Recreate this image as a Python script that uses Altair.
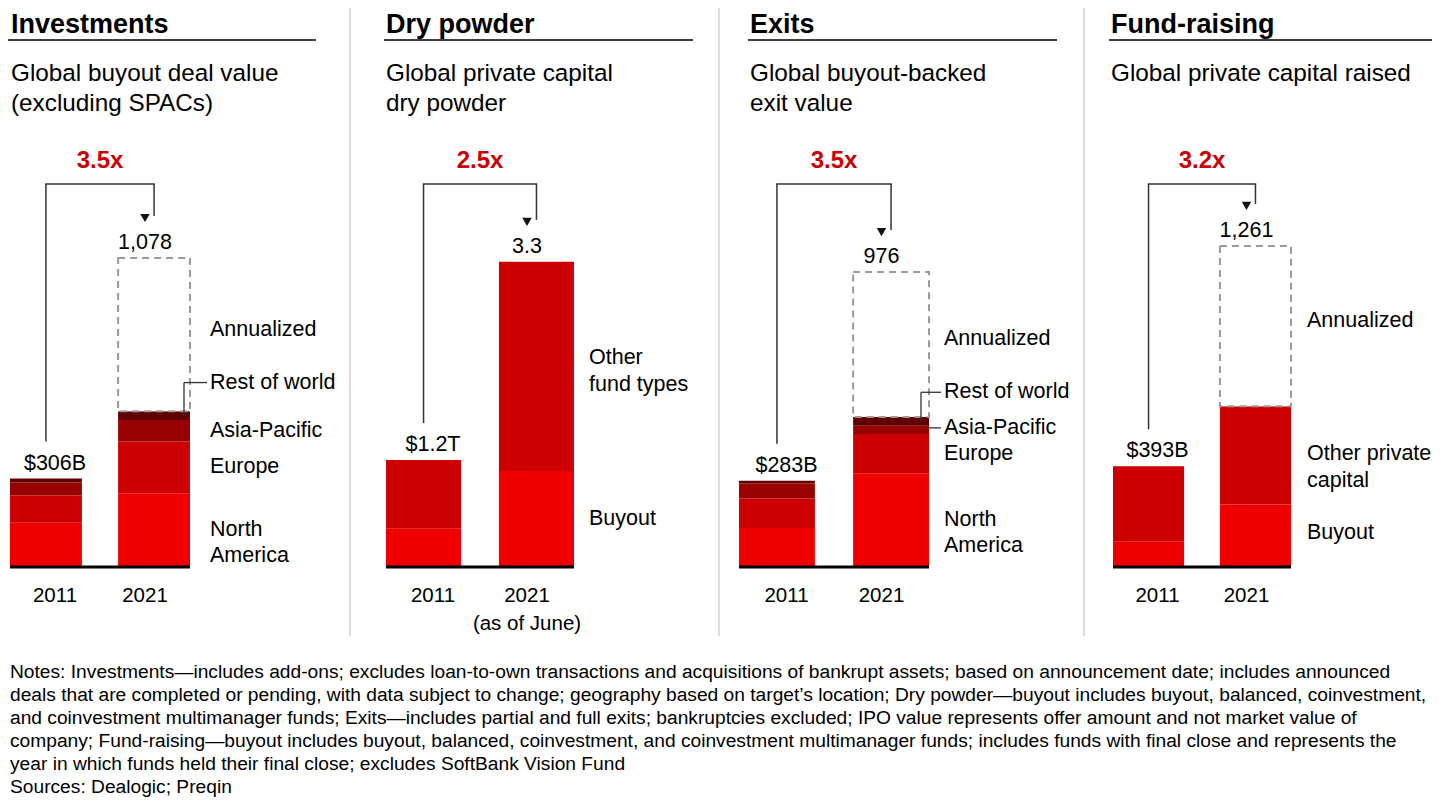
import altair as alt
import pandas as pd

FONT = "Liberation Sans"
YEARS = ["2011", "2021"]

# ---------------- data ----------------
inv_segments = ["North America", "Europe", "Asia-Pacific", "Rest of world", "Annualized"]
inv_labels = ["North\nAmerica", "Europe", "Asia-Pacific", "Rest of world", "Annualized"]
inv_2011 = [151, 96, 45, 14, 0]
inv_2021 = [255, 181, 75, 31, 536]
inv_totals = ["$306B", "1,078"]

dry_segments = ["Buyout", "Other fund types"]
dry_labels = ["Buyout", "Other\nfund types"]
dry_2011 = [0.41, 0.74]
dry_2021 = [1.03, 2.27]
dry_totals = ["$1.2T", "3.3"]

exit_segments = ["North America", "Europe", "Asia-Pacific", "Rest of world", "Annualized"]
exit_labels = ["North\nAmerica", "Europe", "Asia-Pacific", "Rest of world", "Annualized"]
exit_2011 = [126, 98, 50, 9, 0]
exit_2021 = [308, 130, 28, 29, 481]
exit_totals = ["$283B", "976"]

fund_segments = ["Buyout", "Other private capital", "Annualized"]
fund_labels = ["Buyout", "Other private\ncapital", "Annualized"]
fund_2011 = [96, 297, 0]
fund_2021 = [242, 387, 632]
fund_totals = ["$393B", "1,261"]

headers = ["Investments", "Dry powder", "Exits", "Fund-raising"]
subtitles = [
    ["Global buyout deal value", "(excluding SPACs)"],
    ["Global private capital", "dry powder"],
    ["Global buyout-backed", "exit value"],
    ["Global private capital raised"],
]
multiples = ["3.5x", "2.5x", "3.5x", "3.2x"]
year_texts = [
    ["2011", "2021"],
    ["2011", "2021\n(as of June)"],
    ["2011", "2021"],
    ["2011", "2021"],
]
notes_lines = [
    "Notes: Investments\u2014includes add-ons; excludes loan-to-own transactions and acquisitions of bankrupt assets; based on announcement date; includes announced",
    "deals that are completed or pending, with data subject to change; geography based on target\u2019s location; Dry powder\u2014buyout includes buyout, balanced, coinvestment,",
    "and coinvestment multimanager funds; Exits\u2014includes partial and full exits; bankruptcies excluded; IPO value represents offer amount and not market value of",
    "company; Fund-raising\u2014buyout includes buyout, balanced, coinvestment, and coinvestment multimanager funds; includes funds with final close and represents the",
    "year in which funds held their final close; excludes SoftBank Vision Fund",
    "Sources: Dealogic; Preqin",
]

SEG_COLORS = {
    "North America": "#EE0000",
    "Buyout": "#EE0000",
    "Europe": "#CC0000",
    "Other fund types": "#CC0000",
    "Other private capital": "#CC0000",
    "Asia-Pacific": "#990000",
    "Rest of world": "#600000",
}

# ---------------- layout (pixels) ----------------
W, HTOT = 1424, 792
BASE = 558          # baseline of bars
PAD = 0.335
HEADER_Y = 25
UL_Y = 32
SUB_Y = 73
MULT_Y = 160
BRACKET_Y = 176
YEAR_Y = 594
DIV_BOTTOM = 628
NOTES_Y = 670

layouts = [
    dict(ox=0, xrange=[2, 182], dmax=1953, hx=3, ul=[0, 308], lx=202, divider=342,
         offsets={"Annualized": -5, "Rest of world": -33},
         leaders={"Rest of world": ("elbow", 176)}),
    dict(ox=376, xrange=[2, 190], dmax=6.054, hx=2, ul=[0, 309], lx=205, divider=335,
         offsets={"Other fund types": -8}, leaders={}),
    dict(ox=731, xrange=[0, 190], dmax=1852.6, hx=11, ul=[9, 318], lx=205, divider=345,
         offsets={"Annualized": -5, "Rest of world": -29, "Asia-Pacific": -2},
         leaders={"Rest of world": ("elbow", 182), "Asia-Pacific": ("straight", None)}),
    dict(ox=1101, xrange=[4, 182], dmax=2198.5, hx=2, ul=[0, 323], lx=198, divider=None,
         offsets={"Annualized": -5, "Other private capital": -1, "Buyout": -2}, leaders={}),
]

TXT = dict(font=FONT, color="#000000")
LINE = "#333333"
COLOR = alt.Color("seg:N", scale=alt.Scale(domain=list(SEG_COLORS), range=list(SEG_COLORS.values())),
                  legend=None)


def panel_layers(segs, labels, v11, v21, totals, header, subtitle, mult, ylabels, L, notes=None):
    ox = L["ox"]
    r0, r1 = ox + L["xrange"][0], ox + L["xrange"][1]
    step = (r1 - r0) / (2 - PAD)
    bw = step * (1 - PAD)
    c1 = r0 + bw / 2
    c2 = r0 + step + bw / 2
    right_edge = r0 + step + bw
    upx = L["dmax"] / BASE

    rows = []
    for yr, vals in zip(YEARS, (v11, v21)):
        c = 0.0
        for s, lab, v in zip(segs, labels, vals):
            rows.append(dict(year=yr, seg=s, label=lab, y0=c, y1=c + v, mid=c + v / 2))
            c += v
    bars = pd.DataFrame(rows)
    solid = bars[(bars.seg != "Annualized") & (bars.y1 > bars.y0)]
    ann = bars[(bars.seg == "Annualized") & (bars.y1 > bars.y0)]
    tot = pd.DataFrame({"year": YEARS, "total": [sum(v11), sum(v21)],
                        "label": totals, "ylab": ylabels})
    lab = bars[(bars.year == "2021") & (bars.y1 > bars.y0)].copy()
    lab["ly"] = lab["mid"] - lab["seg"].map(lambda s: L["offsets"].get(s, 0)) * upx

    xs = alt.Scale(domain=YEARS, range=[r0, r1], paddingInner=PAD, paddingOuter=0)
    Xn = alt.X("year:N", scale=xs, axis=None)
    ys = alt.Scale(domain=[0, L["dmax"]], range=[BASE, 0], nice=False, zero=True)

    def Y(f):
        return alt.Y(f, scale=ys, axis=None)

    layers = []
    layers.append(alt.Chart(solid).mark_bar().encode(x=Xn, y=Y("y0:Q"), y2="y1:Q", color=COLOR))
    if len(ann):
        layers.append(alt.Chart(ann).mark_bar(fill="white", stroke="#9a9a9a", strokeDash=[7, 5],
                                              strokeWidth=2).encode(x=Xn, y=Y("y0:Q"), y2="y1:Q"))
    one = pd.DataFrame({"t": [mult]})
    # baseline under the bars
    layers.append(alt.Chart(one).mark_rule(color="#000000", strokeWidth=3).encode(
        x=alt.value(r0), x2=alt.value(r1), y=alt.value(BASE + 1)))
    # totals
    layers.append(alt.Chart(tot).mark_text(fontSize=21.5, baseline="alphabetic", dy=-9, **TXT).encode(
        x=Xn, y=Y("total:Q"), text="label:N"))
    # bracket + arrow
    layers.append(alt.Chart(tot[tot.year == "2011"]).mark_rule(color=LINE, strokeWidth=1.5, yOffset=-37).encode(
        x=Xn, y=Y("total:Q"), y2=alt.value(BRACKET_Y)))
    layers.append(alt.Chart(tot[tot.year == "2021"]).mark_rule(color=LINE, strokeWidth=1.5, yOffset=-42).encode(
        x=Xn, y=Y("total:Q"), y2=alt.value(BRACKET_Y)))
    layers.append(alt.Chart(tot[tot.year == "2021"]).mark_point(
        shape="triangle-down", filled=True, size=90, color="#111111", opacity=1, yOffset=-40).encode(
        x=Xn, y=Y("total:Q")))
    layers.append(alt.Chart(one).mark_rule(color=LINE, strokeWidth=1.5).encode(
        x=alt.value(c1 - 0.75), x2=alt.value(c2 + 0.75), y=alt.value(BRACKET_Y)))
    layers.append(alt.Chart(one).mark_text(fontSize=24, fontWeight="bold", font=FONT, color="#CC0000",
                                           baseline="alphabetic").encode(
        x=alt.value((c1 + c2) / 2), y=alt.value(MULT_Y), text="t:N"))
    # segment labels + leaders
    layers.append(alt.Chart(lab).mark_text(align="left", baseline="middle", lineBreak="\n", fontSize=21.5,
                                           lineHeight=26.5, **TXT).encode(
        x=alt.value(ox + L["lx"]), y=Y("ly:Q"), text="label:N"))
    for seg, (kind, vx) in L["leaders"].items():
        d = lab[lab.seg == seg]
        if kind == "elbow":
            layers.append(alt.Chart(d).mark_rule(color=LINE, strokeWidth=1.3).encode(
                x=alt.value(ox + vx), y=Y("mid:Q"), y2="ly:Q"))
            layers.append(alt.Chart(d).mark_rule(color=LINE, strokeWidth=1.3).encode(
                x=alt.value(ox + vx), x2=alt.value(ox + L["lx"] - 3), y=Y("ly:Q")))
        else:
            layers.append(alt.Chart(d).mark_rule(color=LINE, strokeWidth=1.3).encode(
                x=alt.value(right_edge), x2=alt.value(ox + L["lx"] - 3), y=Y("ly:Q")))
    # year labels
    layers.append(alt.Chart(tot).mark_text(fontSize=20.5, baseline="alphabetic", lineBreak="\n",
                                           lineHeight=28, **TXT).encode(
        x=Xn, y=alt.value(YEAR_Y), text="ylab:N"))
    # header, underline, subtitle
    hd = pd.DataFrame({"t": [header], "s": ["\n".join(subtitle)]})
    layers.append(alt.Chart(hd).mark_text(align="left", baseline="alphabetic", fontSize=27,
                                          fontWeight="bold", **TXT).encode(
        x=alt.value(ox + L["hx"]), y=alt.value(HEADER_Y), text="t:N"))
    layers.append(alt.Chart(hd).mark_rule(color="#000000", strokeWidth=1.5).encode(
        x=alt.value(ox + L["ul"][0]), x2=alt.value(ox + L["ul"][1]), y=alt.value(UL_Y)))
    layers.append(alt.Chart(hd).mark_text(align="left", baseline="alphabetic", fontSize=24.3,
                                          lineBreak="\n", lineHeight=30, **TXT).encode(
        x=alt.value(ox + L["hx"]), y=alt.value(SUB_Y), text="s:N"))
    if L["divider"] is not None:
        layers.append(alt.Chart(hd).mark_rule(color="#d0d0d0", strokeWidth=1.5).encode(
            x=alt.value(ox + L["divider"]), y=alt.value(0), y2=alt.value(DIV_BOTTOM)))
    if notes is not None:
        nd = pd.DataFrame({"t": ["\n".join(notes)]})
        layers.append(alt.Chart(nd).mark_text(align="left", baseline="alphabetic", fontSize=19.2,
                                              lineBreak="\n", lineHeight=23, **TXT).encode(
            x=alt.value(2), y=alt.value(NOTES_Y), text="t:N"))
    return layers


all_layers = []
all_layers += panel_layers(inv_segments, inv_labels, inv_2011, inv_2021, inv_totals, headers[0], subtitles[0],
                           multiples[0], year_texts[0], layouts[0], notes=notes_lines)
all_layers += panel_layers(dry_segments, dry_labels, dry_2011, dry_2021, dry_totals, headers[1], subtitles[1],
                           multiples[1], year_texts[1], layouts[1])
all_layers += panel_layers(exit_segments, exit_labels, exit_2011, exit_2021, exit_totals, headers[2], subtitles[2],
                           multiples[2], year_texts[2], layouts[2])
all_layers += panel_layers(fund_segments, fund_labels, fund_2011, fund_2021, fund_totals, headers[3], subtitles[3],
                           multiples[3], year_texts[3], layouts[3])

chart = alt.layer(*all_layers).resolve_scale(
    x="independent", y="independent"
).properties(
    width=W, height=HTOT, padding=0, autosize=alt.AutoSizeParams(type="none")
).configure_view(strokeWidth=0)

chart.save("out.html", embed_options={"renderer": "svg", "actions": False})
